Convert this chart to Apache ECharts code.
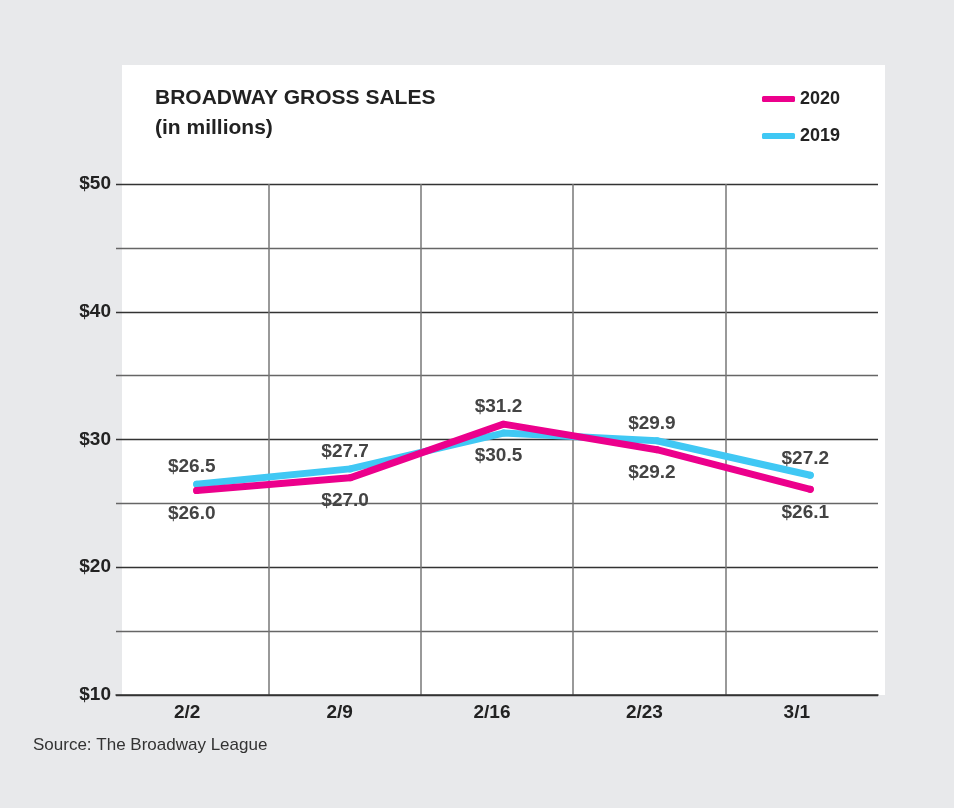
<!DOCTYPE html>
<html>
<head>
<meta charset="utf-8">
<script src="https://cdn.jsdelivr.net/npm/echarts@6/dist/echarts.min.js"></script>
<style>
html,body{margin:0;padding:0;background:#e8e9eb;}
#chart{width:954px;height:808px;}
</style>
</head>
<body>
<div id="chart"></div>
<script>
const categories = ['2/2', '2/9', '2/16', '2/23', '3/1'];
const sales2020 = [26.0, 27.0, 31.2, 29.2, 26.1];
const sales2019 = [26.5, 27.7, 30.5, 29.9, 27.2];
const yMin = 10, yMax = 50, yStep = 5;
const seriesNames = ['2020', '2019'];

const FONT = '"Liberation Sans", Arial, sans-serif';
const PINK = '#ec008c';
const CYAN = '#40c8f4';

function buildData(vals, others) {
  return vals.map((v, i) => {
    const above = v >= others[i];
    return {
      value: v,
      label: above ? { position: 'top', distance: 4 } : { position: 'bottom', distance: 10 }
    };
  });
}

const chart = echarts.init(document.getElementById('chart'));
const labelStyle = {
  show: true,
  formatter: p => '$' + p.value.toFixed(1),
  fontFamily: FONT, fontWeight: 'bold', fontSize: 19, color: '#444',
  offset: [-5, 0]
};

const option = {
  backgroundColor: '#e8e9eb',
  animation: false,
  graphic: [
    { type: 'rect', z: -10, shape: { x: 122, y: 65, width: 763, height: 630 }, style: { fill: '#ffffff' } },
    { type: 'text', left: 33, top: 737, style: { text: 'Source: The Broadway League', font: '17px ' + FONT, fill: '#333' } }
  ],
  title: {
    text: 'BROADWAY GROSS SALES\n(in millions)',
    left: 150, top: 78,
    textStyle: { fontFamily: FONT, fontWeight: 'bold', fontSize: 21, color: '#222', lineHeight: 30 }
  },
  legend: {
    data: seriesNames,
    orient: 'vertical',
    left: 762, top: 90, padding: 0,
    itemWidth: 33, itemHeight: 6, itemGap: 19,
    icon: 'roundRect',
    textStyle: { fontFamily: FONT, fontWeight: 'bold', fontSize: 18, color: '#222' }
  },
  grid: [
    { left: 116, right: 76, top: 184, bottom: 113 },
    { left: 120, right: 67, top: 184, bottom: 113 }
  ],
  xAxis: [
    {
      type: 'category', gridIndex: 0, data: categories, boundaryGap: true,
      axisLine: { lineStyle: { color: '#333', width: 1.5 } },
      axisTick: { show: false },
      axisLabel: { fontFamily: FONT, fontWeight: 'bold', fontSize: 19, color: '#222', margin: 8, padding: [0, 10, 0, 0] },
      splitLine: { show: true, lineStyle: { color: ['rgba(0,0,0,0)', '#777', '#777', '#777', '#777', 'rgba(0,0,0,0)'], width: 1.5 } }
    },
    {
      type: 'category', gridIndex: 1, data: categories, boundaryGap: true, show: false
    }
  ],
  yAxis: [
    {
      type: 'value', gridIndex: 0, min: yMin, max: yMax, interval: yStep,
      axisLine: { show: false }, axisTick: { show: false },
      axisLabel: {
        fontFamily: FONT, fontWeight: 'bold', fontSize: 19, color: '#222', margin: 5,
        formatter: v => (v % 10 === 0 ? '$' + v : '')
      },
      splitLine: { show: true, lineStyle: { color: ['#333', '#666'], width: 1.3 } }
    },
    { type: 'value', gridIndex: 1, min: yMin, max: yMax, show: false }
  ],
  series: [
    {
      name: '2019', type: 'line', xAxisIndex: 1, yAxisIndex: 1,
      data: buildData(sales2019, sales2020),
      color: CYAN, symbol: 'circle', symbolSize: 7,
      lineStyle: { width: 7, color: CYAN, join: 'round', cap: 'round' },
      label: labelStyle, z: 3
    },
    {
      name: '2020', type: 'line', xAxisIndex: 1, yAxisIndex: 1,
      data: buildData(sales2020, sales2019),
      color: PINK, symbol: 'circle', symbolSize: 7,
      lineStyle: { width: 7, color: PINK, join: 'round', cap: 'round' },
      label: labelStyle, z: 4
    }
  ]
};
chart.setOption(option);
</script>
</body>
</html>
